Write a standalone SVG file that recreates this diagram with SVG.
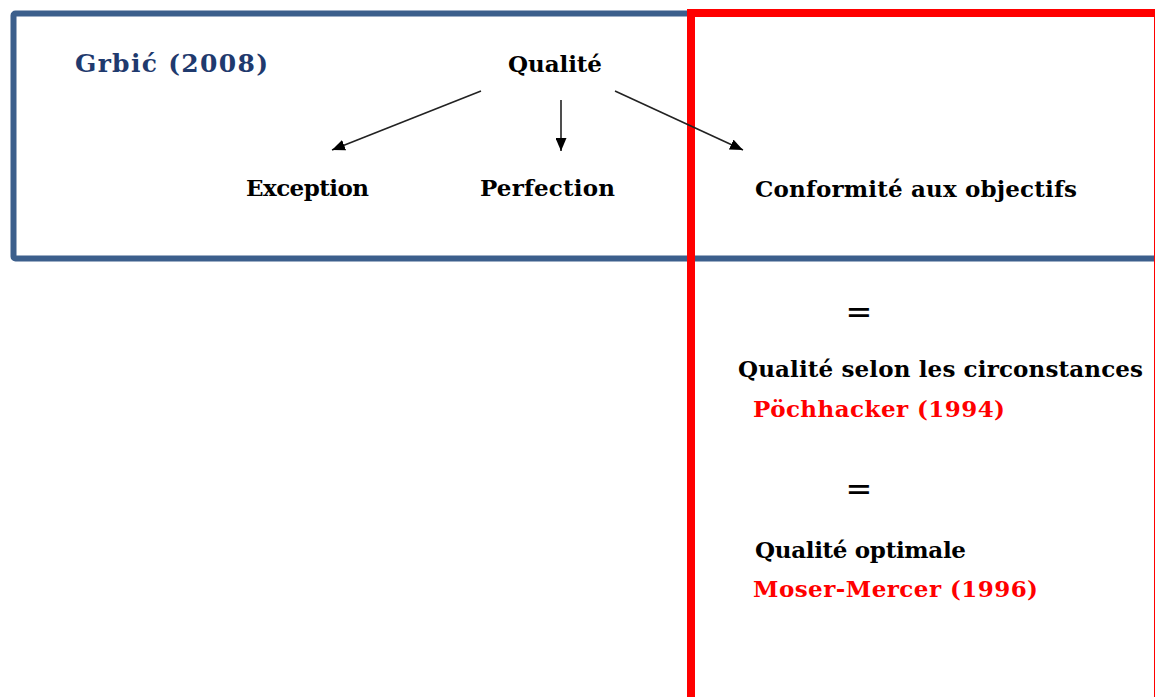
<svg xmlns="http://www.w3.org/2000/svg" width="1155" height="697" viewBox="0 0 1155 697">
<style>
  .t{font-family:"DejaVu Serif","Liberation Serif",serif;font-weight:bold;font-size:23px;fill:#000}
  .red{fill:#ff0000}
  .navy{fill:#1f3a6e;font-size:25px}
  .eq{font-family:"DejaVu Sans","Liberation Sans",sans-serif;font-size:32px;fill:#000;text-anchor:middle}
  .conn{stroke:#222;stroke-width:1.6;fill:none;marker-end:url(#ah)}
</style>
<defs>
  <marker id="ah" viewBox="0 0 13 11" refX="13" refY="5.5" markerWidth="13" markerHeight="11" markerUnits="userSpaceOnUse" orient="auto">
    <path d="M0,0 L13,5.5 L0,11 Z" fill="#000"/>
  </marker>
</defs>
<rect width="1155" height="697" fill="#fff"/>
<g id="frame-blue">
  <rect x="13.5" y="13.5" width="1160" height="245" rx="2" fill="none" stroke="#3c5f8c" stroke-width="6"/>
</g>
<g id="frame-red">
  <rect x="691" y="13" width="467" height="700" fill="none" stroke="#ff0000" stroke-width="8"/>
</g>
<g id="connectors">
  <line class="conn" x1="481" y1="91" x2="332" y2="150"/>
  <line class="conn" x1="561" y1="100" x2="561" y2="151"/>
  <line class="conn" x1="615" y1="91" x2="743" y2="150"/>
</g>
<g id="grbic"><text class="t navy" x="75" y="72" textLength="193" lengthAdjust="spacing">Grbić (2008)</text></g>
<g id="qualite"><text class="t" x="508" y="72" textLength="94" lengthAdjust="spacing">Qualité</text></g>
<g id="exception"><text class="t" x="246" y="196" textLength="123" lengthAdjust="spacing">Exception</text></g>
<g id="perfection"><text class="t" x="480" y="196" textLength="135" lengthAdjust="spacing">Perfection</text></g>
<g id="conformite"><text class="t" x="755" y="197" textLength="322" lengthAdjust="spacing">Conformité  aux objectifs</text></g>
<g id="eq1"><text class="eq" x="859" y="323">=</text></g>
<g id="circonstances"><text class="t" x="738" y="377" textLength="405" lengthAdjust="spacing">Qualité selon les circonstances</text></g>
<g id="pochhacker"><text class="t red" x="753" y="417" textLength="252" lengthAdjust="spacing">Pöchhacker (1994)</text></g>
<g id="eq2"><text class="eq" x="859" y="500">=</text></g>
<g id="optimale"><text class="t" x="755" y="558" textLength="211" lengthAdjust="spacing">Qualité optimale</text></g>
<g id="moser"><text class="t red" x="753" y="597" textLength="285" lengthAdjust="spacing">Moser-Mercer (1996)</text></g>
</svg>
